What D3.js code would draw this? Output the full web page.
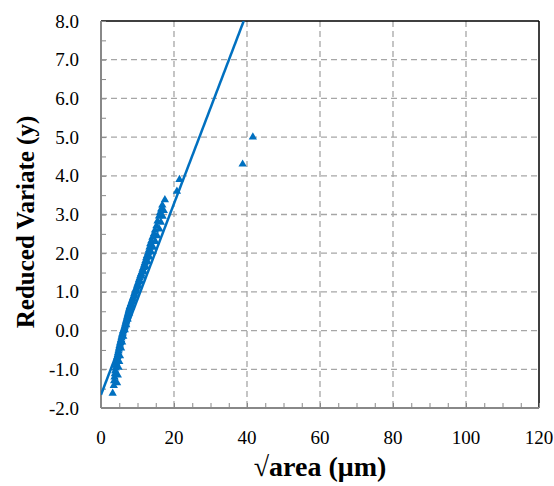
<!DOCTYPE html>
<html><head><meta charset="utf-8">
<script src="https://cdn.jsdelivr.net/npm/d3@7"></script>
</head><body style="margin:0">
<svg id="c" width="554" height="486" font-family="Liberation Serif, serif"></svg>
<script>
// Data
const dataX = [3.2,3.5,3.6,3.7,3.8,3.9,4.0,4.1,4.2,4.3,4.4,4.5,4.6,4.7,4.8,4.9,5.0,5.1,5.2,5.3,5.4,5.5,5.6,5.7,5.8,5.9,6.0,6.1,6.3,6.4,6.5,6.6,6.7,6.8,6.9,7.0,7.1,7.2,7.3,7.4,7.5,7.6,7.7,7.8,7.9,8.1,8.2,8.4,8.5,8.7,8.8,9.0,9.1,9.3,9.4,9.6,9.8,9.9,10.1,10.3,10.4,10.6,10.8,11.0,11.2,11.4,11.6,11.8,12.0,12.2,12.4,12.6,12.9,13.1,13.3,13.5,13.8,14.1,14.5,14.8,15.2,15.5,15.9,16.2,16.5,16.8,17.5,20.8,21.5,38.8,41.6,
  4.4,4.6,4.8,5.0,5.2,5.5,5.8,6.1,6.5,6.9,7.3,7.7,8.2,8.7,9.2,9.7,10.2,10.7,11.2,11.7,12.3,12.8,13.3,13.8,14.3,14.9,15.4,16.0,16.4,16.9,17.2];
const dataY = [-1.62,-1.42,-1.30,-1.20,-1.12,-1.04,-0.97,-0.90,-0.84,-0.78,-0.72,-0.67,-0.62,-0.57,-0.52,-0.48,-0.43,-0.39,-0.35,-0.31,-0.27,-0.23,-0.19,-0.15,-0.11,-0.08,-0.04,0.0,0.04,0.07,0.11,0.14,0.18,0.22,0.25,0.29,0.32,0.36,0.40,0.43,0.47,0.51,0.55,0.58,0.62,0.66,0.70,0.74,0.78,0.82,0.86,0.90,0.95,0.99,1.03,1.08,1.12,1.17,1.22,1.26,1.31,1.36,1.42,1.47,1.52,1.58,1.63,1.69,1.75,1.81,1.88,1.94,2.01,2.08,2.16,2.24,2.32,2.41,2.50,2.60,2.71,2.83,2.96,3.05,3.14,3.24,3.38,3.60,3.90,4.30,5.00,
  -1.35,-1.15,-0.95,-0.80,-0.65,-0.45,-0.30,-0.15,0.02,0.15,0.30,0.45,0.60,0.75,0.90,1.02,1.15,1.28,1.40,1.52,1.65,1.78,1.90,2.03,2.15,2.30,2.45,2.62,2.80,2.95,3.10];
// Fitted line end points (x, y)
const fitX = [0, 39.1];
const fitY = [-1.66, 8.0];
const xTicks = [0,20,40,60,80,100,120];
const yTicks = [-2,-1,0,1,2,3,4,5,6,7,8];
const xMinor = d3.range(0,121,5);
const yMinor = d3.range(-2,8.01,0.5);

const svg = d3.select("#c");
const L=101, R=539, T=21, B=408;
const x = d3.scaleLinear().domain([0,120]).range([L,R]);
const y = d3.scaleLinear().domain([-2,8]).range([B,T]);
const blue = "#0070C0";
const FF = '"Liberation Serif", serif';

// gridlines
const g = svg.append("g");
g.selectAll(".gx").data(xTicks.filter(d=>d>0 && d<120)).join("line")
  .attr("x1",d=>x(d)).attr("x2",d=>x(d)).attr("y1",T).attr("y2",B)
  .attr("stroke","#a6a6a6").attr("stroke-width",1.3).attr("stroke-dasharray","6,4");
g.selectAll(".gy").data(yTicks.filter(d=>d>-2 && d<8)).join("line")
  .attr("y1",d=>y(d)).attr("y2",d=>y(d)).attr("x1",L).attr("x2",R)
  .attr("stroke","#a6a6a6").attr("stroke-width",1.3).attr("stroke-dasharray","6,4");

svg.append("line").attr("x1",L).attr("x2",R).attr("y1",T).attr("y2",T).attr("stroke","#000").attr("stroke-width",1.5);
svg.append("line").attr("x1",R).attr("x2",R).attr("y1",T).attr("y2",B).attr("stroke","#000").attr("stroke-width",1.5);

// axes (minor/major tick marks only), with the axis' default font removed
const xAxis = d3.axisBottom(x).tickValues(xMinor).tickSize(-5).tickFormat("");
const yAxis = d3.axisLeft(y).tickValues(yMinor).tickSize(-5).tickFormat("");
const ax = svg.append("g").attr("transform",`translate(0,${B})`).call(xAxis).attr("font-family",null).attr("font-size",null);
const ay = svg.append("g").attr("transform",`translate(${L},0)`).call(yAxis).attr("font-family",null).attr("font-size",null);
ax.selectAll("text").remove(); ay.selectAll("text").remove();
ax.select(".domain").attr("stroke","#888").attr("stroke-width",2).attr("d",`M${L},0H${R}`);
ay.select(".domain").attr("stroke","#888").attr("stroke-width",2).attr("d",`M0,${B}V${T}`);
svg.selectAll(".tick line").attr("stroke","#888").attr("stroke-width",1);

// tick labels
svg.append("g").selectAll("text").data(xTicks).join("text")
  .attr("x",d=>x(d)).attr("y",444).attr("text-anchor","middle")
  .attr("font-family","Liberation Serif").style("font-family",FF).attr("font-size",19).text(d=>d);
svg.append("g").selectAll("text").data(yTicks).join("text")
  .attr("x",79).attr("y",d=>y(d)+6.5).attr("text-anchor","end")
  .attr("font-family","Liberation Serif").style("font-family",FF).attr("font-size",19).text(d=>d.toFixed(1));

// fit line
svg.append("clipPath").attr("id","cp").append("rect").attr("x",L).attr("y",T).attr("width",R-L).attr("height",B-T);
svg.append("line").attr("clip-path","url(#cp)")
  .attr("x1",x(fitX[0])).attr("y1",y(fitY[0])).attr("x2",x(fitX[1])).attr("y2",y(fitY[1]))
  .attr("stroke",blue).attr("stroke-width",2.5);

// data triangles
const tri = d3.symbol().type(d3.symbolTriangle).size(30);
svg.append("g").selectAll("path").data(dataX.map((d,i)=>[d,dataY[i]])).join("path")
  .attr("d",tri).attr("transform",d=>`translate(${x(d[0])},${y(d[1])})`).attr("fill",blue);

// titles
svg.append("text").attr("x",320).attr("y",476).attr("text-anchor","middle")
  .attr("font-family","Liberation Serif").style("font-family",FF).attr("font-weight","bold").attr("font-size",28).text("√area (μm)");
svg.append("text").attr("transform","translate(34,222) rotate(-90)").attr("text-anchor","middle")
  .attr("font-family","Liberation Serif").style("font-family",FF).attr("font-weight","bold").attr("font-size",25).text("Reduced Variate (y)");
</script>
</body></html>
